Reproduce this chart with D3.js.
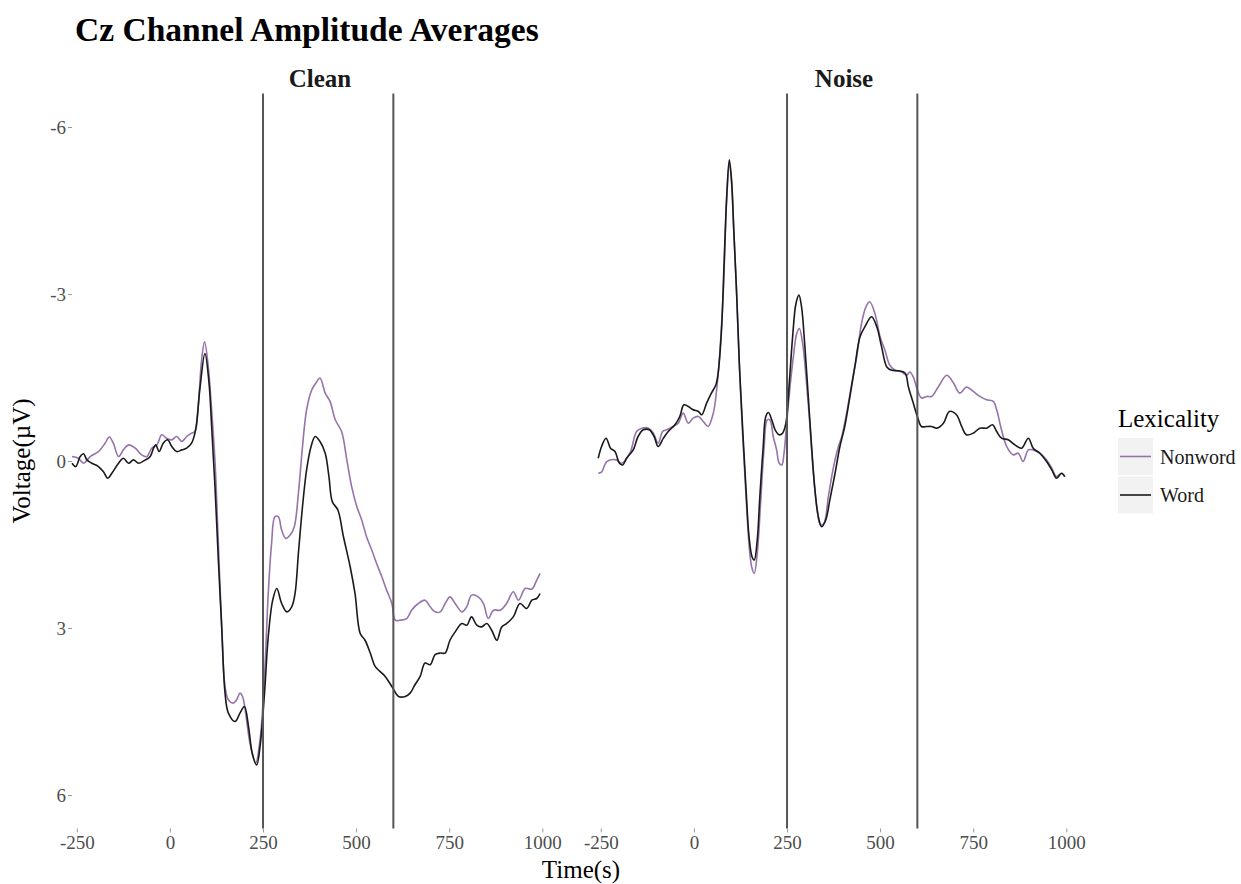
<!DOCTYPE html>
<html>
<head>
<meta charset="utf-8">
<script src="https://cdn.jsdelivr.net/npm/d3@7"></script>
<style>
  body { margin: 0; background: #fff; }
  svg text { font-family: "Liberation Serif", "Times New Roman", serif; }
</style>
</head>
<body>
<div id="chart"></div>
<script>
// Cz channel ERP averages, two conditions side by side

var conditions = ["Clean", "Noise"],
    lexicality = ["Nonword", "Word"],
    lineColors = ["#9673ab", "#1a1a1a"],
    xTicks = [-250, 0, 250, 500, 750, 1000],
    yTicks = [-6, -3, 0, 3, 6],
    windowMarks = [250, 600];

// [time (ms), amplitude (uV)]
var cleanNonword = [[-263,-0.08],[-246,-0.05],[-232,0.04],[-214,-0.08],[-192,-0.17],[-174,-0.32],[-163,-0.43],[-152,-0.32],[-138,-0.08],[-125,-0.20],[-111,-0.29],[-93,-0.23],[-76,-0.11],[-62,-0.08],[-49,-0.23],[-35,-0.29],[-22,-0.47],[-9,-0.41],[5,-0.38],[18,-0.44],[32,-0.35],[45,-0.44],[58,-0.50],[67,-0.53],[76,-1.0],[85,-1.81],[93,-2.14],[103,-1.69],[112,-0.92],[121,0.0],[130,1.48],[139,2.98],[148,4.05],[157,4.29],[170,4.35],[179,4.29],[188,4.17],[195,4.23],[202,4.47],[215,5.07],[230,5.43],[242,5.01],[254,3.87],[264,2.38],[273,1.48],[282,1.0],[291,1.0],[300,1.24],[311,1.39],[323,1.33],[334,1.18],[345,0.58],[356,-0.26],[367,-0.92],[381,-1.28],[392,-1.40],[403,-1.49],[417,-1.22],[430,-1.07],[444,-0.74],[461,-0.53],[475,-0.02],[488,0.46],[502,0.82],[515,1.06],[528,1.36],[542,1.60],[555,1.84],[569,2.08],[582,2.32],[596,2.56],[605,2.86],[618,2.86],[636,2.83],[649,2.68],[667,2.56],[685,2.50],[699,2.62],[712,2.71],[726,2.71],[739,2.56],[752,2.44],[766,2.56],[784,2.71],[797,2.62],[810,2.41],[828,2.44],[842,2.56],[855,2.83],[869,2.68],[887,2.68],[904,2.56],[922,2.35],[936,2.50],[954,2.29],[972,2.30],[985,2.14],[994,2.02]];

var cleanWord = [[-263,0.04],[-253,0.10],[-241,-0.08],[-232,-0.13],[-223,-0.02],[-210,0.04],[-192,0.10],[-179,0.19],[-167,0.31],[-156,0.22],[-138,0.04],[-125,-0.05],[-111,0.04],[-98,-0.02],[-84,0.04],[-66,-0.02],[-53,-0.08],[-44,-0.23],[-38,-0.29],[-29,-0.17],[-18,-0.32],[-6,-0.38],[5,-0.26],[18,-0.17],[32,-0.20],[45,-0.23],[58,-0.32],[69,-0.56],[81,-1.33],[94,-1.93],[105,-1.40],[112,-0.62],[121,0.46],[130,1.78],[139,2.98],[148,4.17],[157,4.53],[175,4.68],[188,4.53],[200,4.41],[211,4.77],[221,5.25],[233,5.46],[242,5.13],[254,4.17],[264,3.16],[276,2.50],[287,2.29],[300,2.56],[314,2.71],[327,2.62],[336,2.38],[345,1.66],[356,0.82],[367,0.16],[379,-0.26],[390,-0.44],[403,-0.35],[417,-0.14],[427,0.28],[436,0.73],[451,0.88],[466,1.36],[484,1.90],[497,2.38],[511,3.10],[524,3.22],[538,3.45],[551,3.69],[564,3.78],[578,3.87],[596,4.05],[614,4.23],[632,4.23],[645,4.17],[658,4.02],[672,3.87],[685,3.63],[699,3.66],[712,3.48],[726,3.45],[739,3.45],[752,3.22],[766,3.07],[784,2.92],[797,2.95],[810,2.80],[824,2.95],[837,2.98],[851,2.92],[864,3.04],[878,3.22],[891,2.98],[904,2.92],[922,2.80],[940,2.56],[958,2.65],[972,2.50],[985,2.47],[994,2.38]];

var noiseNonword = [[-257,0.22],[-248,0.20],[-234,0.01],[-208,-0.02],[-194,0.04],[-172,-0.14],[-154,-0.53],[-140,-0.59],[-122,-0.59],[-109,-0.50],[-96,-0.32],[-84,-0.53],[-73,-0.56],[-56,-0.62],[-42,-0.68],[-29,-0.86],[-15,-0.68],[-2,-0.77],[12,-0.80],[25,-0.71],[38,-0.62],[52,-0.86],[61,-1.28],[70,-1.99],[79,-3.07],[88,-4.70],[95,-5.35],[101,-5.0],[107,-4.15],[115,-2.95],[122,-1.70],[131,-0.45],[140,0.65],[148,1.50],[155,1.90],[162,2.02],[170,1.66],[179,0.76],[188,-0.20],[197,-0.74],[204,-0.74],[213,-0.44],[222,-0.20],[229,0.04],[236,0.07],[242,-0.14],[249,-0.68],[258,-1.33],[267,-1.87],[276,-2.29],[283,-2.38],[292,-2.11],[301,-1.51],[311,-0.68],[320,0.16],[331,0.88],[340,1.15],[349,1.12],[361,0.64],[375,0.10],[388,-0.26],[397,-0.44],[410,-0.86],[424,-1.40],[437,-1.87],[450,-2.47],[462,-2.77],[472,-2.86],[486,-2.65],[500,-2.23],[513,-1.99],[526,-1.72],[540,-1.63],[558,-1.60],[571,-1.54],[580,-1.60],[589,-1.51],[600,-1.28],[611,-1.13],[625,-1.16],[638,-1.16],[656,-1.33],[679,-1.54],[697,-1.40],[714,-1.22],[732,-1.33],[750,-1.25],[768,-1.16],[786,-1.10],[804,-1.07],[813,-0.92],[826,-0.56],[840,-0.26],[858,-0.11],[871,-0.14],[884,0.01],[898,-0.20],[911,-0.20],[929,-0.14],[947,-0.02],[961,0.13],[974,0.28],[987,0.22],[996,0.28]];

var noiseWord = [[-257,-0.05],[-248,-0.26],[-236,-0.41],[-224,-0.23],[-212,-0.17],[-200,0.04],[-191,0.07],[-181,-0.05],[-163,-0.20],[-150,-0.44],[-136,-0.56],[-120,-0.56],[-107,-0.44],[-96,-0.26],[-82,-0.41],[-69,-0.53],[-51,-0.65],[-38,-0.80],[-27,-1.01],[-15,-0.98],[-2,-0.92],[12,-0.89],[21,-0.83],[34,-1.04],[47,-1.22],[59,-1.37],[65,-1.58],[74,-2.35],[81,-3.55],[88,-4.75],[95,-5.41],[101,-5.05],[107,-4.15],[115,-2.95],[122,-1.75],[131,-0.56],[140,0.52],[148,1.36],[156,1.72],[162,1.78],[170,1.42],[177,0.64],[186,-0.26],[193,-0.80],[200,-0.87],[209,-0.74],[218,-0.56],[229,-0.47],[238,-0.50],[247,-0.68],[256,-1.40],[265,-2.23],[274,-2.83],[282,-2.98],[289,-2.77],[298,-2.05],[307,-1.16],[316,-0.26],[325,0.52],[334,1.0],[343,1.18],[354,1.06],[365,0.70],[379,0.22],[392,-0.26],[405,-0.62],[419,-1.16],[432,-1.69],[446,-2.23],[459,-2.41],[477,-2.59],[491,-2.41],[504,-2.05],[518,-1.69],[531,-1.63],[549,-1.62],[567,-1.58],[576,-1.33],[589,-1.04],[600,-0.80],[611,-0.62],[625,-0.62],[638,-0.62],[652,-0.59],[670,-0.68],[686,-0.89],[705,-0.83],[719,-0.62],[732,-0.47],[750,-0.50],[768,-0.59],[786,-0.59],[802,-0.65],[813,-0.53],[826,-0.41],[844,-0.38],[862,-0.29],[880,-0.23],[898,-0.41],[911,-0.23],[929,-0.14],[947,0.01],[961,0.16],[974,0.31],[987,0.22],[996,0.28]];

var panelSeries = [[cleanNonword, cleanWord], [noiseNonword, noiseWord]];

// Layout
var width = 1241,
    height = 884,
    panelTop = 93.6,
    panelBottom = 828.4,
    panelWidth = 496,
    panelLefts = [72, 596];

var plainNumber = function(d) { return String(d); };

var svg = d3.select("#chart").append("svg")
    .attr("width", width)
    .attr("height", height);

svg.append("rect")
    .attr("width", width)
    .attr("height", height)
    .attr("fill", "#fff");

// voltage axis is flipped: negative up
var y = d3.scaleLinear()
    .domain([-6.6, 6.6])
    .range([panelTop, panelBottom]);

var colorScale = d3.scaleOrdinal()
    .domain(lexicality)
    .range(lineColors);

conditions.forEach(function(cond, i) {
  var x = d3.scaleLinear()
      .domain([-263, 1069])
      .range([panelLefts[i], panelLefts[i] + panelWidth]);

  var g = svg.append("g").attr("class", "panel");

  var line = d3.line()
      .x(function(d) { return x(d[0]); })
      .y(function(d) { return y(d[1]); })
      .curve(d3.curveCatmullRom.alpha(0.5));

  g.selectAll(".erp")
    .data(panelSeries[i])
    .enter().append("path")
      .attr("class", "erp")
      .attr("d", line)
      .attr("fill", "none")
      .attr("stroke", function(d, k) { return colorScale(lexicality[k]); })
      .attr("stroke-width", 1.6)
      .attr("stroke-linejoin", "round");

  g.selectAll(".mark")
    .data(windowMarks)
    .enter().append("line")
      .attr("class", "mark")
      .attr("x1", function(d) { return x(d); })
      .attr("x2", function(d) { return x(d); })
      .attr("y1", panelTop)
      .attr("y2", panelBottom)
      .attr("stroke", "#555")
      .attr("stroke-width", 2);

  // x axis
  var xAxis = g.append("g")
      .attr("transform", "translate(0," + panelBottom + ")")
      .call(d3.axisBottom(x).tickValues(xTicks).tickFormat(plainNumber).tickSize(4).tickPadding(3));
  xAxis.select(".domain").remove();
  xAxis.selectAll(".tick line").attr("stroke", "#999");
  xAxis.selectAll(".tick text")
      .attr("fill", "#4d4d4d")
      .style("font-size", "19px");

  // strip label
  svg.append("text")
      .attr("x", panelLefts[i] + panelWidth / 2)
      .attr("y", 87)
      .attr("text-anchor", "middle")
      .style("font-size", "25px")
      .style("font-weight", "bold")
      .attr("fill", "#1a1a1a")
      .text(cond);
});

// y axis
var yAxis = svg.append("g")
    .attr("transform", "translate(" + panelLefts[0] + ",0)")
    .call(d3.axisLeft(y).tickValues(yTicks).tickFormat(plainNumber).tickSize(4).tickPadding(2));
yAxis.select(".domain").remove();
yAxis.selectAll(".tick line").attr("stroke", "#999");
yAxis.selectAll(".tick text")
    .attr("fill", "#4d4d4d")
    .style("font-size", "19px");

// titles
svg.append("text")
    .attr("x", 75)
    .attr("y", 41)
    .style("font-size", "33.5px")
    .style("font-weight", "bold")
    .text("Cz Channel Amplitude Averages");

svg.append("text")
    .attr("x", 581)
    .attr("y", 878)
    .attr("text-anchor", "middle")
    .style("font-size", "25px")
    .text("Time(s)");

svg.append("text")
    .attr("transform", "translate(30,461) rotate(-90)")
    .attr("text-anchor", "middle")
    .style("font-size", "25px")
    .text("Voltage(\u00b5V)");

// legend
var legend = svg.append("g").attr("transform", "translate(1118,0)");

legend.append("text")
    .attr("x", 0)
    .attr("y", 427)
    .style("font-size", "25px")
    .text("Lexicality");

var keys = legend.selectAll(".key")
    .data(lexicality)
    .enter().append("g")
      .attr("class", "key")
      .attr("transform", function(d, k) { return "translate(0," + (438 + k * 38.5) + ")"; });

keys.append("rect")
    .attr("width", 35)
    .attr("height", 37)
    .attr("fill", "#f2f2f2");

keys.append("line")
    .attr("x1", 2)
    .attr("x2", 33)
    .attr("y1", 18.5)
    .attr("y2", 18.5)
    .attr("stroke", function(d) { return colorScale(d); })
    .attr("stroke-width", 1.6);

keys.append("text")
    .attr("x", 42)
    .attr("y", 18.5)
    .attr("dy", "0.35em")
    .style("font-size", "20px")
    .attr("fill", "#1a1a1a")
    .text(function(d) { return d; });
</script>
</body>
</html>
